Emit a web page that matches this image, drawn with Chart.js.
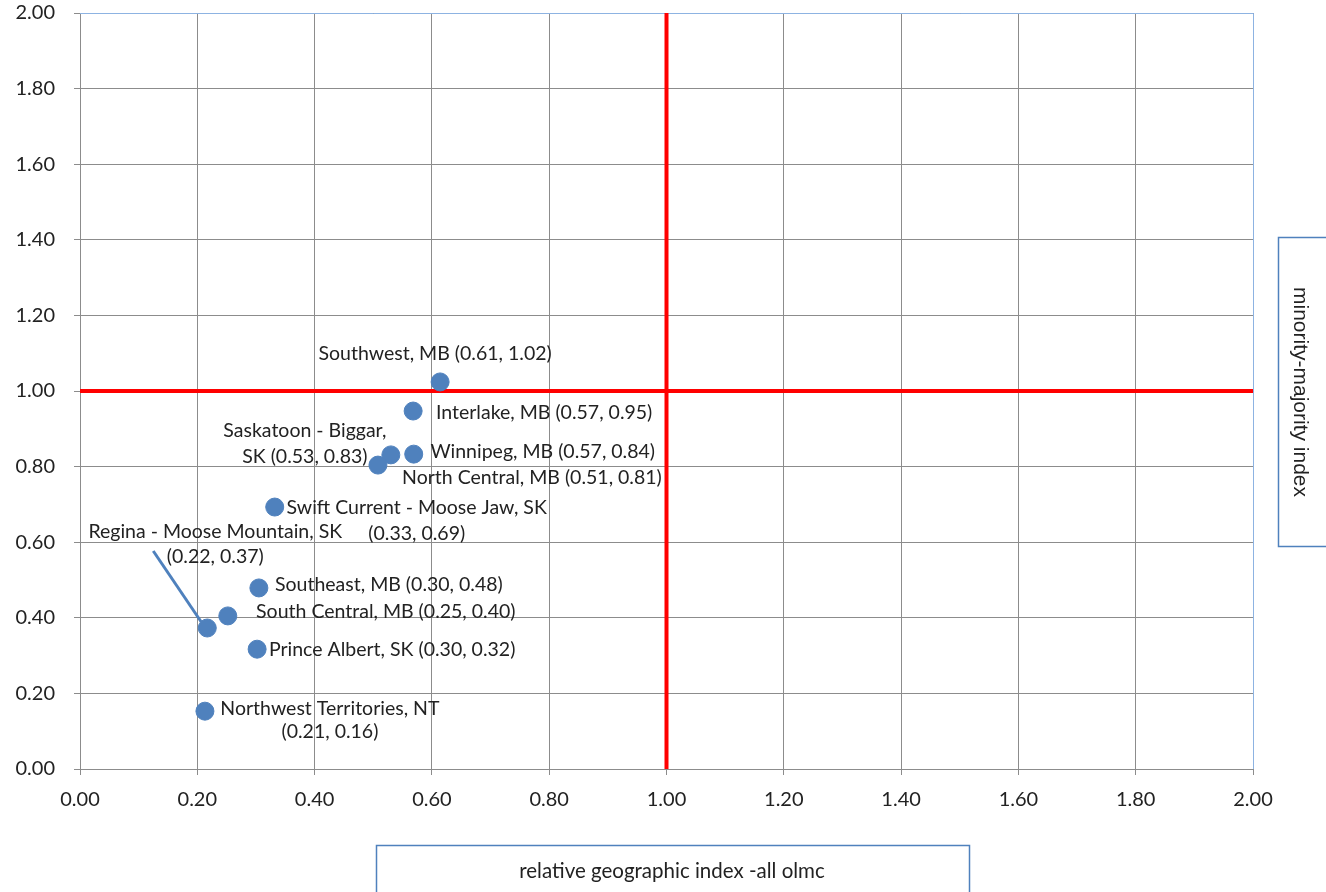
<!DOCTYPE html>
<html>
<head>
<meta charset="utf-8">
<script src="https://cdn.jsdelivr.net/npm/chart.js@4.4.1/dist/chart.umd.min.js"></script>
<style>
  html, body { margin: 0; padding: 0; background: #fff; }
  #wrap { width: 1326px; height: 892px; position: relative; }
</style>
</head>
<body>
<div id="wrap"><canvas id="quad"></canvas></div>
<script>
// regions and their two indices
const regions = [
  'Southwest, MB', 'Interlake, MB', 'Winnipeg, MB', 'Saskatoon - Biggar, SK',
  'North Central, MB', 'Swift Current - Moose Jaw, SK', 'Regina - Moose Mountain, SK',
  'Southeast, MB', 'South Central, MB', 'Prince Albert, SK', 'Northwest Territories, NT'
];
const geoIndex = [0.614, 0.568, 0.569, 0.530, 0.508, 0.332, 0.217, 0.305, 0.252, 0.302, 0.213];
const minorityIndex = [1.024, 0.947, 0.833, 0.831, 0.804, 0.693, 0.373, 0.479, 0.405, 0.317, 0.153];
const labelText = [
  ['Southwest, MB (0.61, 1.02)'],
  ['Interlake, MB (0.57, 0.95)'],
  ['Winnipeg, MB (0.57, 0.84)'],
  ['Saskatoon - Biggar,', 'SK (0.53, 0.83)'],
  ['North Central, MB (0.51, 0.81)'],
  ['Swift Current - Moose Jaw, SK', '(0.33, 0.69)'],
  ['Regina - Moose Mountain, SK', '(0.22, 0.37)'],
  ['Southeast, MB (0.30, 0.48)'],
  ['South Central, MB (0.25, 0.40)'],
  ['Prince Albert, SK (0.30, 0.32)'],
  ['Northwest Territories, NT', '(0.21, 0.16)']
];
const axisTicks = [0, 0.2, 0.4, 0.6, 0.8, 1.0, 1.2, 1.4, 1.6, 1.8, 2.0];
const splitX = 1.0;
const splitY = 1.0;

// label placement, pixel offsets from each point (centre x, first line y)
const labelPos = [
  [-5, -28], [131, 2], [129, -2], [-86, -24], [154, 13], [142, 1],
  [8, -96], [130, -3], [158, -4], [135, 1], [125, -2]
];
const lineGap = [0, 0, 0, 26, 0, 26, 25, 0, 0, 0, 23];
const leader = { idx: 6, from: [-54, -77], to: [-6, -6] };

const points = geoIndex.map((x, i) => ({ x: x, y: minorityIndex[i] }));

const labelPlugin = {
  id: 'pointLabels',
  afterDatasetsDraw(chart) {
    const ctx = chart.ctx;
    const meta = chart.getDatasetMeta(0);
    ctx.save();
    // leader line for Regina
    const lp = meta.data[leader.idx];
    ctx.strokeStyle = '#4f81bd';
    ctx.lineWidth = 3;
    ctx.beginPath();
    ctx.moveTo(lp.x + leader.from[0], lp.y + leader.from[1]);
    ctx.lineTo(lp.x + leader.to[0], lp.y + leader.to[1]);
    ctx.stroke();

    ctx.font = '19.5px Lato';
    ctx.fillStyle = '#222';
    ctx.textAlign = 'center';
    ctx.textBaseline = 'middle';
    meta.data.forEach((pt, i) => {
      const [dx, dy] = labelPos[i];
      labelText[i].forEach((line, j) => {
        ctx.fillText(line, pt.x + dx, pt.y + dy + j * lineGap[i]);
      });
    });
    ctx.restore();
  }
};

const framePlugin = {
  id: 'frames',
  beforeDatasetsDraw(chart) {
    const { ctx, chartArea } = chart;
    ctx.save();
    ctx.strokeStyle = '#8db3e2';
    ctx.lineWidth = 1;
    ctx.beginPath();
    ctx.moveTo(chartArea.left, chartArea.top + 0.5);
    ctx.lineTo(chartArea.right + 0.5, chartArea.top + 0.5);
    ctx.lineTo(chartArea.right + 0.5, chartArea.bottom);
    ctx.stroke();
    ctx.restore();
  },
  afterDraw(chart) {
    const ctx = chart.ctx;
    ctx.save();
    ctx.strokeStyle = '#4f81bd';
    ctx.lineWidth = 1.5;
    // x-axis title box
    ctx.strokeRect(376.5, 845.5, 593, 60);
    // y-axis title box
    ctx.strokeRect(1278.5, 237.5, 60, 309);
    ctx.fillStyle = '#222';
    ctx.textAlign = 'center';
    ctx.textBaseline = 'middle';
    ctx.font = '20.5px Lato';
    ctx.fillText('relative geographic index -all olmc', 672, 871);
    ctx.translate(1300, 392);
    ctx.rotate(Math.PI / 2);
    ctx.font = '21px "Liberation Sans"';
    ctx.fillText('minority-majority index', 0, 0);
    ctx.restore();
  }
};

const gridStyle = {
  color: '#8c8c8c',
  lineWidth: 1,
  tickLength: 6,
  drawTicks: true
};

new Chart(document.getElementById('quad'), {
  type: 'scatter',
  data: {
    datasets: [
      {
        label: 'regions',
        data: points,
        backgroundColor: '#4f81bd',
        borderColor: '#4f81bd',
        pointRadius: 9,
        pointHoverRadius: 9
      },
      {
        label: 'x split',
        type: 'line',
        data: [{ x: splitX, y: axisTicks[0] }, { x: splitX, y: axisTicks[axisTicks.length - 1] }],
        borderColor: '#ff0000',
        borderWidth: 4,
        pointRadius: 0,
        fill: false
      },
      {
        label: 'y split',
        type: 'line',
        data: [{ x: axisTicks[0], y: splitY }, { x: axisTicks[axisTicks.length - 1], y: splitY }],
        borderColor: '#ff0000',
        borderWidth: 4,
        pointRadius: 0,
        fill: false
      }
    ]
  },
  options: {
    responsive: true,
    maintainAspectRatio: false,
    animation: false,
    layout: { padding: { top: 13, right: 73, bottom: 0, left: 0 } },
    plugins: {
      legend: { display: false },
      tooltip: { enabled: false },
      title: { display: false }
    },
    scales: {
      x: {
        type: 'linear',
        min: 0,
        max: 2,
        afterBuildTicks: (scale) => { scale.ticks = axisTicks.map(v => ({ value: v })); },
        afterFit: (scale) => { scale.height = 123; scale.paddingLeft = 0; scale.paddingRight = 0; },
        grid: gridStyle,
        border: { color: '#8c8c8c' },
        ticks: {
          padding: 13,
          color: '#222',
          font: { family: 'Lato', size: 20 },
          callback: (v) => Number(v).toFixed(2)
        }
      },
      y: {
        type: 'linear',
        min: 0,
        max: 2,
        afterBuildTicks: (scale) => { scale.ticks = axisTicks.map(v => ({ value: v })); },
        afterFit: (scale) => { scale.width = 80; scale.paddingTop = 0; scale.paddingBottom = 0; },
        grid: gridStyle,
        border: { color: '#8c8c8c' },
        ticks: {
          padding: 19,
          color: '#222',
          font: { family: 'Lato', size: 20 },
          callback: (v) => Number(v).toFixed(2)
        }
      }
    }
  },
  plugins: [framePlugin, labelPlugin]
});
</script>
</body>
</html>
